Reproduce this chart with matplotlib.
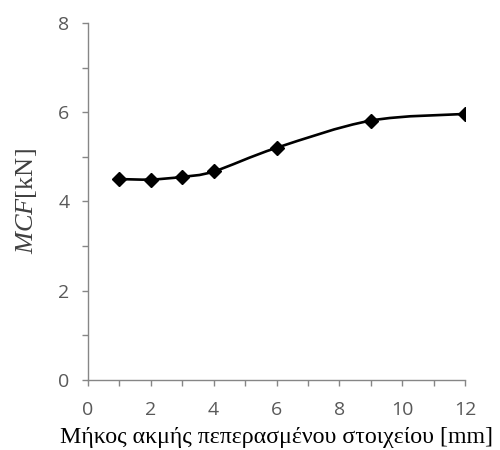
import matplotlib.pyplot as plt
import numpy as np
from matplotlib.path import Path
from matplotlib.patches import PathPatch
from matplotlib.ticker import MultipleLocator

# element edge length [mm] vs MCF [kN]
edge_len = [1, 2, 3, 4, 6, 9, 12]
mcf = [4.50, 4.49, 4.55, 4.67, 5.20, 5.81, 5.96]

x_ticks = [0, 2, 4, 6, 8, 10, 12]
y_ticks = [0, 2, 4, 6, 8]

plt.rcParams['mathtext.fontset'] = 'custom'
plt.rcParams['mathtext.it'] = 'Liberation Serif:italic'
plt.rcParams['mathtext.rm'] = 'Liberation Serif'

fig = plt.figure(figsize=(5, 4.5), dpi=100)
ax = fig.add_axes([0.176, 0.156, 0.754, 0.793])

# smoothed line (excel style bezier through the points)
pts = np.column_stack([edge_len, mcf]).astype(float)
ext = np.vstack([pts[0], pts, pts[-1]])
verts = [tuple(pts[0])]
codes = [Path.MOVETO]
for i in range(1, len(ext) - 2):
    p0, p1, p2, p3 = ext[i - 1], ext[i], ext[i + 1], ext[i + 2]
    c1 = p1 + (p2 - p0) / 6
    c2 = p2 - (p3 - p1) / 6
    verts += [tuple(c1), tuple(c2), tuple(p2)]
    codes += [Path.CURVE4] * 3
ax.add_patch(PathPatch(Path(verts, codes), facecolor='none', edgecolor='black', lw=1.9, zorder=2))

ax.plot(edge_len, mcf, linestyle='none', marker='D', markersize=7.5, color='black', zorder=3)

ax.set_xlim(0, 12)
ax.set_ylim(0, 8)
ax.set_xticks(x_ticks)
ax.set_yticks(y_ticks)
ax.xaxis.set_minor_locator(MultipleLocator(1))
ax.yaxis.set_minor_locator(MultipleLocator(1))

for s in ['top', 'right']:
    ax.spines[s].set_visible(False)
for s in ['left', 'bottom']:
    ax.spines[s].set_color('#868686')
    ax.spines[s].set_linewidth(1.0)

ax.tick_params(which='both', direction='out', color='#868686', length=4.3, width=1.0)
ax.tick_params(axis='x', labelcolor='#595959', labelsize=14, pad=11)
ax.tick_params(axis='y', labelcolor='#595959', labelsize=14, pad=9)
for lab in ax.get_xticklabels() + ax.get_yticklabels():
    lab.set_family('Open Sans')

ax.set_xlabel('Μήκος ακμής πεπερασμένου στοιχείου [mm]', family='Liberation Serif',
              fontsize=17.2, color='black', labelpad=6)
ax.set_ylabel(r'$MCF$[kN]', family='Liberation Serif', fontsize=19, color='#404040', labelpad=14)

fig.savefig('out.png', dpi=100)
